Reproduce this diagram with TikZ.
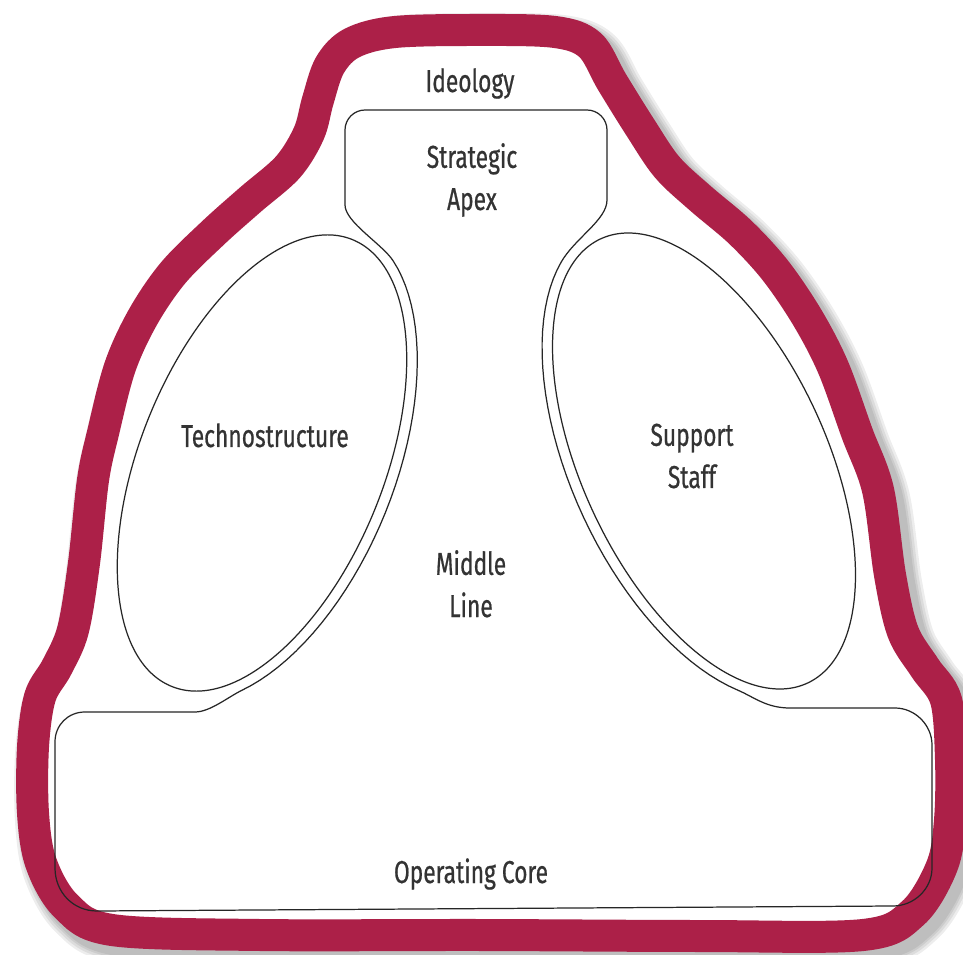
\documentclass[tikz,border=0pt]{standalone}
\usepackage{fontspec}
\setmainfont{Fira Sans}[FakeStretch=0.72, FakeBold=0.6]
\usepackage{xcolor}
\usepackage{tikz}
\usetikzlibrary{positioning}

\definecolor{ideologyred}{RGB}{172,32,72}

\begin{document}
\begin{tikzpicture}[
  x=0.02cm, y=-0.02cm,
  font=\fontsize{18}{24}\selectfont,
  band/.style={
    draw=ideologyred,
    line width=0.64cm,
    line join=round
  },
  haze/.style={
    draw=black,
    opacity=0.07,
    line join=round
  },
  part/.style={
    draw=black!85,
    line width=0.7pt
  },
  partname/.style={
    text=black!80,
    align=center,
    inner sep=0pt
  }
]

\useasboundingbox (0,0) rectangle (963,955);

% Ideology band
\path[save path=\ideologypath] plot[smooth cycle, tension=0.55] coordinates {
  (480,30) (555,32) (590,45) (612,82) (640,127) (667,167) (700,198)
  (740,232) (775,270) (807,317) (833,367) (857,433) (878,490) (890,575)
  (903,632) (925,668) (946,700) (951,760) (950,820) (942,866) (913,913)
  (863,935) (700,936) (480,935) (260,935) (112,930) (66,906) (41,863)
  (33,813) (33,747) (40,697) (57,667) (73,630) (84,563) (93,480)
  (103,433) (120,367) (143,317) (173,273) (213,233) (250,200) (288,167)
  (309,133) (318,100) (330,65) (352,43) (395,32)};
\foreach \w in {1.0,0.9,0.8,0.72}
  \draw[haze, line width=\w cm, transform canvas={shift={(7,8)}}, use path=\ideologypath];
\fill[white, use path=\ideologypath];
\draw[band, use path=\ideologypath];

% Middle Line, apex and operating core
\draw[part] (345,130) .. controls (345,119) and (354,110) .. (365,110)
  -- (587,110) .. controls (598,110) and (607,119) .. (607,130)
  -- (607,200) .. controls (607,220) and (575,238) .. (561.1,262.2)
  -- plot[domain=110:240, samples=40, variable=\t]
     ({704+120.5*cos(\t)-108.2*sin(\t)}, {461-56.2*cos(\t)-232*sin(\t)})
  .. controls (754,697) and (766,708) .. (790,708)
  -- (895,708) .. controls (915,708) and (932,725) .. (932,745)
  -- (932,868) .. controls (932,889) and (914,906) .. (893,906)
  -- (97,911) .. controls (73,911) and (55,892) .. (55,868)
  -- (55,742) .. controls (55,725) and (68,712) .. (85,712)
  -- (195,712) .. controls (210,712) and (228.4,696.8) .. (241.9,690.3)
  -- plot[domain=-60:70, samples=40, variable=\t]
     ({262+123.3*cos(\t)+94.4*sin(\t)}, {463+49.8*cos(\t)-233.7*sin(\t)})
  .. controls (382,244) and (345,222) .. (345,205)
  -- cycle;

% Technostructure and Support Staff
\draw[part, rotate around={-22:(262,463)}] (262,463) ellipse [x radius=122, y radius=241];
\draw[part, rotate around={25:(704,461)}] (704,461) ellipse [x radius=122, y radius=245];

% Labels
\node[partname, anchor=base] (ideology) at (470,92) {Ideology};
\node[partname, anchor=base] (apex) at (472,210) {Strategic\\Apex};
\node[partname, anchor=base] (techno) at (265,447) {Technostructure};
\node[partname, anchor=base] (support) at (692,488) {Support\\Staff};
\node[partname, anchor=base] (middle) at (471,617) {Middle\\Line};
\node[partname, anchor=base] (core) at (471,883) {Operating Core};

\end{tikzpicture}
\end{document}
